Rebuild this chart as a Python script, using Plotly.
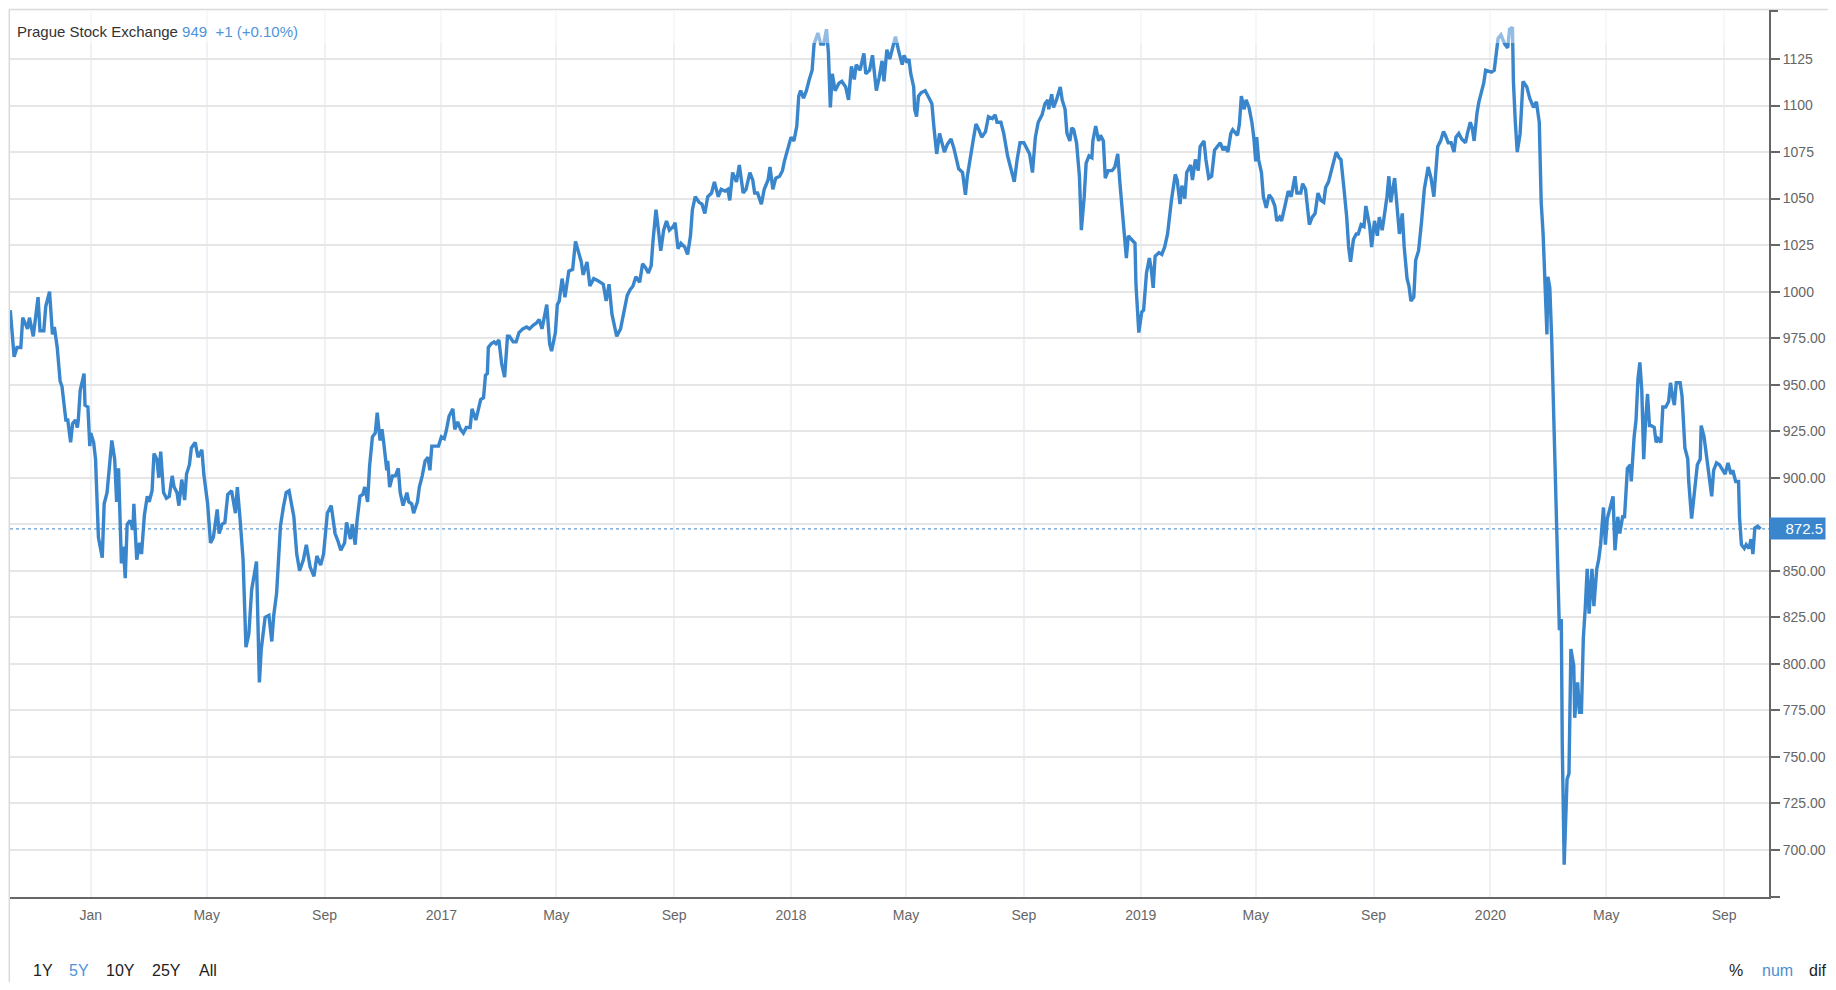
import pandas as pd
import plotly.graph_objects as go

# ---------------- data ----------------
# trading day, expressed as days since 2016-01-01
day = [
    -84, -80, -77, -73, -71, -66, -64, -60, -55, -53, -49, -47, -43, -40, -38, -35, -32, -30, -26, -24,
    -21, -19, -16, -14, -13, -11, -7, -6, -3, -1, 0, 3, 5, 8, 12, 14, 17, 20, 22, 25,
    27, 29, 32, 34, 36, 38, 41, 44, 45, 48, 51, 53, 56, 59, 61, 64, 66, 69, 71, 73,
    76, 79, 82, 85, 87, 90, 92, 95, 98, 100, 103, 105, 109, 112, 116, 118, 122, 125, 128, 132,
    134, 137, 140, 143, 147, 151, 153, 156, 159, 162, 165, 168, 170, 173, 176, 178, 182, 186, 189, 191,
    194, 198, 201, 204, 207, 210, 212, 215, 218,
    222, 225, 229, 233, 236, 240, 243, 247, 251, 255, 258, 261, 265, 267, 271, 273, 276, 278, 281, 284,
    286, 289, 291, 294, 297, 299, 302, 304, 306, 309, 310, 312, 315, 318, 321, 323, 326, 330, 332, 335,
    337, 341, 343, 346, 349, 352, 354, 356, 359, 363, 366, 369, 371, 374, 378, 380, 383, 386, 389, 392,
    396, 398, 402, 404, 407, 410, 412, 414, 415, 418, 421, 423, 426, 429, 432, 435, 437, 441, 444, 447,
    451, 455, 458, 462, 465, 468, 471, 476, 479, 481, 485, 487, 489, 492, 495, 499, 503, 506, 510, 512,
    514, 518, 521, 525, 529,
    535, 538, 541, 544, 549, 553, 556, 560, 563, 566, 569, 573, 576, 579, 582, 585, 587, 590, 593, 595,
    598, 601, 604, 608, 610, 613, 616, 620, 623, 626, 628, 631, 635, 638, 641, 644, 648, 651, 655, 658,
    662, 665, 667, 670, 674, 677, 681, 684, 688, 691, 693, 696, 700, 703, 707, 709, 712, 715, 719, 722,
    724, 728, 731, 734, 737, 739, 741, 744, 747, 750, 753, 755, 759, 762, 765, 768, 770, 772, 774, 777,
    781, 784, 788, 791, 794, 797, 799, 803, 807, 809, 813, 816, 820, 823, 826, 828, 831, 834, 837, 840,
    843,
    847, 849, 852, 854, 856, 859, 860, 862, 864, 867, 871, 875, 878, 880, 883, 886, 888, 891, 894, 898,
    901, 904, 906, 910, 913, 915, 918, 921, 924, 927, 930, 934, 937, 941, 944, 946, 950, 953, 957, 960,
    964, 967, 970, 974, 977, 980, 983, 986, 989, 993, 996, 999, 1000, 1003, 1005, 1008, 1012, 1014, 1017, 1019,
    1022, 1024, 1026, 1029, 1032, 1034, 1037, 1039, 1042, 1045, 1046, 1049, 1052, 1054, 1057, 1059, 1062, 1066, 1069, 1072,
    1074, 1077, 1079, 1081, 1083, 1087, 1090, 1091, 1094, 1097, 1099, 1102, 1105, 1107, 1109, 1111, 1115, 1118, 1121, 1124,
    1126, 1128, 1132, 1134, 1137, 1139, 1142, 1144, 1148, 1150, 1153, 1156, 1158, 1162, 1164, 1167, 1170, 1173,
    1176, 1179, 1182, 1184, 1187, 1190, 1192, 1197, 1199, 1201, 1204, 1206, 1209, 1212, 1214, 1216, 1217, 1219, 1222, 1224,
    1227, 1230, 1233, 1236, 1238, 1241, 1243, 1246, 1250, 1253, 1257, 1259, 1263, 1265, 1268, 1272, 1275, 1278, 1281, 1284,
    1287, 1289, 1292, 1296, 1300, 1303, 1305, 1308, 1311, 1313, 1315, 1318, 1321, 1323, 1326, 1329, 1331, 1335, 1337, 1340,
    1343, 1345, 1348, 1350, 1353, 1355, 1357, 1361, 1363, 1366, 1369, 1371, 1374, 1376, 1378, 1381, 1383, 1386, 1389, 1392,
    1396, 1399, 1402, 1404, 1406, 1409, 1412, 1414, 1417, 1420, 1423, 1425, 1428, 1431, 1435, 1437, 1440, 1442, 1444, 1447,
    1449, 1452, 1454, 1456,
    1462, 1465, 1469, 1472, 1476, 1479, 1481, 1484, 1485, 1487, 1489, 1492, 1495, 1499, 1502, 1506, 1509, 1512, 1514, 1516,
    1518, 1520, 1521, 1523, 1525, 1528, 1529, 1531, 1533, 1535, 1536, 1538, 1541, 1543, 1545, 1548, 1549, 1552, 1554, 1556,
    1558, 1560, 1562, 1564, 1567, 1569, 1572, 1574, 1576, 1579, 1581, 1583, 1586, 1589, 1591, 1594, 1596, 1599, 1601, 1604,
    1607, 1608, 1611, 1613, 1615, 1617, 1619, 1621, 1623, 1625, 1627, 1629, 1632, 1634, 1636, 1639, 1641, 1644, 1647, 1649,
    1651, 1653, 1655, 1659, 1661, 1664, 1667, 1668, 1671, 1674, 1677, 1680, 1681, 1684, 1687, 1689, 1692, 1694, 1697, 1700,
    1704, 1706, 1709, 1712, 1714, 1717, 1720, 1721, 1723, 1726, 1728, 1731, 1733, 1735, 1737, 1740, 1743,
]

value = [
    990, 965, 970, 970, 986, 980, 986, 976, 997, 979, 979, 992, 1000, 977, 981, 970, 952, 949, 931, 931,
    919, 929, 931, 927, 931, 947, 956, 939, 938, 917, 924, 919, 910, 868, 857, 886, 892, 910, 920, 910,
    887, 905, 854, 863, 846, 875, 877, 872, 886, 856, 865, 859, 880, 890, 887, 893, 913, 910, 900, 914,
    892, 889, 890, 901, 895, 892, 885, 899, 888, 902, 907, 916, 919, 911, 915, 902, 886, 865, 868, 883,
    870, 875, 876, 891, 893, 881, 895, 877, 856, 809, 816, 840, 847, 855, 790, 808, 825, 826, 812, 826,
    838, 874, 884, 892, 893, 884, 879, 859, 850,
    856, 864, 852, 847, 858, 853, 859, 881, 885, 870, 866, 861, 865, 876, 867, 875, 864, 877, 890, 891,
    895, 887, 906, 922, 924, 935, 920, 926, 918, 904, 909, 895, 901, 901, 905, 892, 885, 892, 887, 886,
    881, 887, 895, 901, 909, 911, 904, 917, 917, 917, 922, 921, 925, 933, 937, 926, 930, 926, 924, 927,
    927, 937, 931, 935, 942, 943, 955, 956, 970, 972, 973, 972, 974, 961, 954, 976, 976, 973, 973, 978,
    980, 981, 980, 982, 983, 985, 980, 993, 972, 968, 978, 993, 995, 1007, 997, 1011, 1012, 1027, 1020, 1016,
    1009, 1016, 1003, 1007, 1006,
    1004, 995, 1004, 988, 976, 980, 988, 998, 1001, 1003, 1008, 1005, 1015, 1013, 1010, 1014, 1028, 1044, 1031, 1022,
    1033, 1038, 1033, 1035, 1037, 1023, 1026, 1024, 1020, 1030, 1044, 1051, 1048, 1047, 1042, 1051, 1053, 1059, 1051, 1055,
    1054, 1055, 1049, 1064, 1059, 1068, 1053, 1055, 1064, 1060, 1053, 1053, 1047, 1055, 1060, 1067, 1055, 1061, 1062, 1065,
    1070, 1078, 1083, 1081, 1089, 1105, 1108, 1104, 1108, 1114, 1119, 1133, 1139, 1133, 1133, 1141, 1128, 1099, 1117, 1108,
    1112, 1113, 1110, 1103, 1121, 1114, 1122, 1119, 1128, 1117, 1119, 1127, 1108, 1115, 1124, 1113, 1130, 1125, 1132, 1137,
    1130,
    1122, 1127, 1123, 1125, 1117, 1110, 1098, 1094, 1105, 1107, 1108, 1104, 1101, 1089, 1074, 1085, 1081, 1075, 1079, 1082,
    1077, 1071, 1066, 1064, 1052, 1062, 1073, 1081, 1090, 1087, 1083, 1086, 1094, 1093, 1095, 1091, 1091, 1085, 1073, 1067,
    1059, 1071, 1080, 1080, 1077, 1074, 1064, 1083, 1091, 1095, 1101, 1103, 1098, 1106, 1099, 1103, 1110, 1103, 1098, 1085,
    1081, 1088, 1087, 1080, 1062, 1033, 1051, 1069, 1073, 1072, 1081, 1089, 1081, 1084, 1081, 1061, 1065, 1065, 1067, 1074,
    1060, 1040, 1031, 1018, 1030, 1028, 1026, 1004, 978, 989, 990, 1010, 1018, 1012, 1002, 1019, 1021, 1020, 1024, 1031,
    1042, 1049, 1063, 1060, 1047, 1057, 1050, 1064, 1068, 1060, 1071, 1065, 1078, 1081, 1071, 1061, 1062, 1076,
    1078, 1080, 1076, 1078, 1075, 1085, 1087, 1084, 1090, 1105, 1098, 1103, 1099, 1091, 1083, 1070, 1083, 1071, 1064, 1051,
    1045, 1052, 1050, 1046, 1038, 1040, 1038, 1045, 1054, 1051, 1062, 1053, 1053, 1058, 1055, 1036, 1040, 1042, 1053, 1049,
    1048, 1056, 1059, 1067, 1075, 1072, 1071, 1056, 1040, 1024, 1016, 1028, 1031, 1031, 1036, 1035, 1046, 1035, 1024, 1038,
    1030, 1040, 1033, 1040, 1051, 1062, 1048, 1061, 1047, 1031, 1042, 1024, 1007, 1003, 995, 997, 1017, 1022, 1037, 1055,
    1067, 1061, 1051, 1067, 1078, 1081, 1086, 1084, 1080, 1080, 1075, 1083, 1085, 1082, 1080, 1085, 1091, 1088, 1081, 1096,
    1102, 1108, 1112, 1119,
    1118, 1119, 1136, 1138, 1133, 1131, 1141, 1142, 1113, 1091, 1075, 1085, 1113, 1110, 1104, 1099, 1102, 1091, 1048, 1031,
    1002, 977, 1008, 1002, 974, 913, 910, 864, 818, 824, 756, 692, 738, 741, 808, 799, 771, 790, 774, 774,
    814, 830, 851, 827, 851, 831, 851, 856, 864, 884, 864, 878, 885, 890, 861, 879, 870, 879, 879, 905,
    907, 898, 922, 931, 953, 962, 947, 910, 931, 945, 928, 928, 927, 919, 921, 919, 938, 938, 941, 951,
    944, 939, 951, 951, 944, 916, 910, 898, 878, 891, 907, 910, 928, 922, 910, 904, 890, 904, 908, 907,
    904, 902, 908, 902, 904, 898, 898, 879, 864, 862, 864, 862, 867, 859, 873, 874, 872.5,
]

tick_dates = ["2016-01-01", "2016-05-01", "2016-09-01", "2017-01-01", "2017-05-01", "2017-09-01",
              "2018-01-01", "2018-05-01", "2018-09-01", "2019-01-01", "2019-05-01", "2019-09-01",
              "2020-01-01", "2020-05-01", "2020-09-01"]
tick_labels = ["Jan", "May", "Sep", "2017", "May", "Sep", "2018", "May", "Sep", "2019", "May", "Sep",
               "2020", "May", "Sep"]

y_ticks = [700, 725, 750, 775, 800, 825, 850, 875, 900, 925, 950, 975,
           1000, 1025, 1050, 1075, 1100, 1125]
# the 875.00 label is hidden behind the last-value box in the reference
y_labels = ["700.00", "725.00", "750.00", "775.00", "800.00", "825.00", "850.00", "",
            "900.00", "925.00", "950.00", "975.00", "1000", "1025", "1050", "1075", "1100", "1125"]

last_value = 872.5
last_label = "872.5"
series_name = "Prague Stock Exchange"
series_quote = "949&nbsp;&nbsp;+1 (+0.10%)"
range_buttons = ["1Y", "5Y", "10Y", "25Y", "All"]
mode_buttons = ["%", "num", "dif"]

# ---------------- layout geometry (page pixels) ----------------
OFF = 8                      # default body margin of the html page
W, H = 1836 - 2 * OFF, 990 - 2 * OFF
PLOT_L, PLOT_R, PLOT_T, PLOT_B = 10, 1771, 11, 897   # plot area in page pixels
ML, MT = PLOT_L - OFF, PLOT_T - OFF
MR, MB = W - (PLOT_R - OFF), H - (PLOT_B - OFF)
PW, PH = W - ML - MR, H - MT - MB
FONT = "Liberation Sans, Arial, sans-serif"
LINE = "#3a86cc"
BLUE_TXT = "#4d94db"
AXIS = "#666666"


def px_x(px):
    return (px - PLOT_L) / PW


def px_y(py):
    return 1 - (py - PLOT_T) / PH


dates = pd.Timestamp("2016-01-01") + pd.to_timedelta(day, unit="D")

fig = go.Figure()
fig.add_trace(go.Scatter(
    x=dates, y=value, mode="lines", name=series_name,
    line=dict(color=LINE, width=3.4), hoverinfo="skip", showlegend=False,
))

fig.update_layout(
    width=W, height=H,
    margin=dict(l=ML, r=MR, t=MT, b=MB, pad=0),
    paper_bgcolor="white", plot_bgcolor="white",
    font=dict(family=FONT, size=14, color=AXIS),
    showlegend=False,
    xaxis=dict(
        type="date",
        range=["2015-10-08 17:00", "2020-10-17 19:00"],
        tickvals=tick_dates, ticktext=tick_labels,
        showgrid=True, gridcolor="#eef2f7", gridwidth=2,
        showline=True, linecolor=AXIS, linewidth=2,
        ticks="", zeroline=False, ticklabelstandoff=4,
        tickfont=dict(family=FONT, size=14, color=AXIS),
    ),
    yaxis=dict(
        side="right",
        range=[674.7, 1150.8],
        tickvals=y_ticks, ticktext=y_labels,
        showgrid=True, gridcolor="#e6e6e6", gridwidth=1.5,
        showline=True, linecolor=AXIS, linewidth=2,
        ticks="outside", ticklen=9, tickwidth=1.5, tickcolor=AXIS,
        zeroline=False,
        tickfont=dict(family=FONT, size=14, color=AXIS),
    ),
)

shapes = [
    # dotted last-value line
    dict(type="line", xref="paper", yref="y", x0=0, x1=1, y0=last_value, y1=last_value,
         line=dict(color=LINE, width=1, dash="dot"), layer="above"),
    # faded band at top of the plot (behind the series caption)
    dict(type="rect", xref="paper", yref="paper", x0=0, x1=1, y0=px_y(43), y1=1,
         fillcolor="rgba(255,255,255,0.45)", line=dict(width=0), layer="above"),
    # outer frame: top and left
    dict(type="line", xref="paper", yref="paper", x0=px_x(9), x1=px_x(1836), y0=px_y(9.5), y1=px_y(9.5),
         line=dict(color="#dadada", width=1.5)),
    dict(type="line", xref="paper", yref="paper", x0=px_x(9.3), x1=px_x(9.3), y0=px_y(9.5), y1=px_y(990),
         line=dict(color="#dadada", width=1.5)),
    # cap at top of the y axis and small extension of x axis line
    dict(type="line", xref="paper", yref="paper", x0=1, x1=px_x(PLOT_R + 9), y0=1, y1=1,
         line=dict(color=AXIS, width=2)),
    dict(type="line", xref="paper", yref="paper", x0=1, x1=px_x(PLOT_R + 11), y0=0, y1=0,
         line=dict(color=AXIS, width=2)),
]
fig.update_layout(shapes=shapes)

ann = [
    dict(xref="paper", yref="paper", x=px_x(15), y=px_y(32), xanchor="left", yanchor="middle",
         showarrow=False,
         text=f"<span style='color:#333333'>{series_name}</span> <span style='color:{BLUE_TXT}'>{series_quote}</span>",
         font=dict(family=FONT, size=15)),
    dict(xref="paper", yref="y", x=1, y=last_value, xanchor="left", yanchor="middle",
         showarrow=False, text=last_label, bgcolor=LINE, width=MR - 6, height=17, borderpad=2,
         align="right", font=dict(family=FONT, size=15, color="white")),
]
btn_x = [30.6, 67, 104, 150, 197]
for label, bx in zip(range_buttons, btn_x):
    ann.append(dict(xref="paper", yref="paper", x=px_x(bx), y=px_y(970), xanchor="left",
                    yanchor="middle", showarrow=False, text=label,
                    font=dict(family=FONT, size=16, color=BLUE_TXT if label == "5Y" else "#222222")))
mode_x = [1729, 1762, 1809]
for label, bx in zip(mode_buttons, mode_x):
    ann.append(dict(xref="paper", yref="paper", x=px_x(bx), y=px_y(970), xanchor="left",
                    yanchor="middle", showarrow=False, text=label,
                    font=dict(family=FONT, size=16, color="#4d8fce" if label == "num" else "#222222")))
fig.update_layout(annotations=ann)

fig.write_html("out.html")
